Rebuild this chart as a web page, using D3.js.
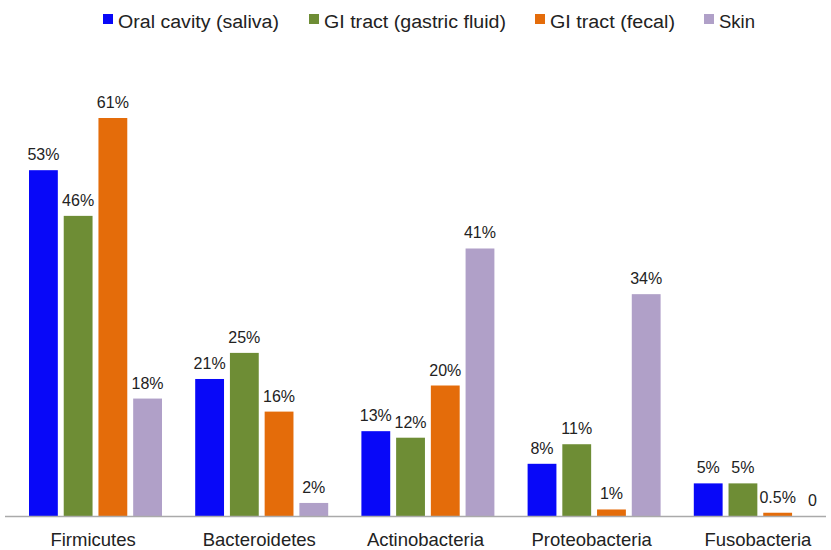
<!DOCTYPE html>
<html>
<head>
<meta charset="utf-8">
<script src="https://cdn.jsdelivr.net/npm/d3@7"></script>
<style>
body { margin: 0; background: #fff; }
text { font-family: "Liberation Sans", Arial, sans-serif; fill: #222; }
</style>
</head>
<body>
<svg id="chart" width="831" height="550"></svg>
<script>
var phyla = ["Firmicutes", "Bacteroidetes", "Actinobacteria", "Proteobacteria", "Fusobacteria"];
var sites = ["Oral cavity (saliva)", "GI tract (gastric fluid)", "GI tract (fecal)", "Skin"];
var colors = ["#0808f8", "#6e8d35", "#e46c0a", "#b0a0c8"];

var saliva  = [53, 21, 13, 8, 5];
var gastric = [46, 25, 12, 11, 5];
var fecal   = [61, 16, 20, 1, 0.5];
var skin    = [18, 2, 41, 34, 0];
var labels = [
    ["53%", "21%", "13%", "8%", "5%"],
    ["46%", "25%", "12%", "11%", "5%"],
    ["61%", "16%", "20%", "1%", "0.5%"],
    ["18%", "2%", "41%", "34%", "0"]
];
var series = [saliva, gastric, fecal, skin];

var svg = d3.select("#chart");
var baseY = 516;

var x = d3.scaleBand().domain(phyla).range([10, 841]);
var x1 = d3.scaleBand().domain(d3.range(4)).range([19, 152]).paddingInner(0.17);
var y = d3.scaleLinear().domain([0, 61]).range([baseY, 118]);

// bars
series.forEach(function(vals, s) {
    var g = svg.append("g");
    g.selectAll("rect").data(vals).enter().append("rect")
        .attr("x", function(d, i) { return x(phyla[i]) + x1(s); })
        .attr("y", function(d) { return y(d); })
        .attr("width", x1.bandwidth())
        .attr("height", function(d) { return baseY - y(d); })
        .style("fill", colors[s]);
    g.selectAll("text").data(vals).enter().append("text")
        .attr("x", function(d, i) { return x(phyla[i]) + x1(s) + x1.bandwidth() / 2; })
        .attr("y", function(d) { return y(d) - 10; })
        .attr("text-anchor", "middle")
        .style("font-size", "16px")
        .text(function(d, i) { return labels[s][i]; });
});

// axis line
svg.append("line")
    .attr("x1", 5).attr("x2", 826)
    .attr("y1", baseY + 0.5).attr("y2", baseY + 0.5)
    .style("stroke", "#aaa").style("stroke-width", 1.5);

// category labels
svg.selectAll(".cat").data(phyla).enter().append("text")
    .attr("class", "cat")
    .attr("x", function(d) { return x(d) + x.bandwidth() / 2; })
    .attr("y", 546)
    .attr("text-anchor", "middle")
    .style("font-size", "18.5px")
    .text(function(d) { return d; });

// legend
var legendX = [103, 309, 535, 704];
var legendW = [161, 182, 125, 36];
var leg = svg.selectAll(".leg").data(sites).enter().append("g")
    .attr("transform", function(d, i) { return "translate(" + legendX[i] + ",0)"; });
leg.append("rect")
    .attr("x", 0).attr("y", 14)
    .attr("width", 10).attr("height", 10)
    .style("fill", function(d, i) { return colors[i]; });
leg.append("text")
    .attr("x", 15).attr("y", 28)
    .style("font-size", "18px")
    .attr("textLength", function(d, i) { return legendW[i]; })
    .attr("lengthAdjust", "spacingAndGlyphs")
    .text(function(d) { return d; });
</script>
</body>
</html>
